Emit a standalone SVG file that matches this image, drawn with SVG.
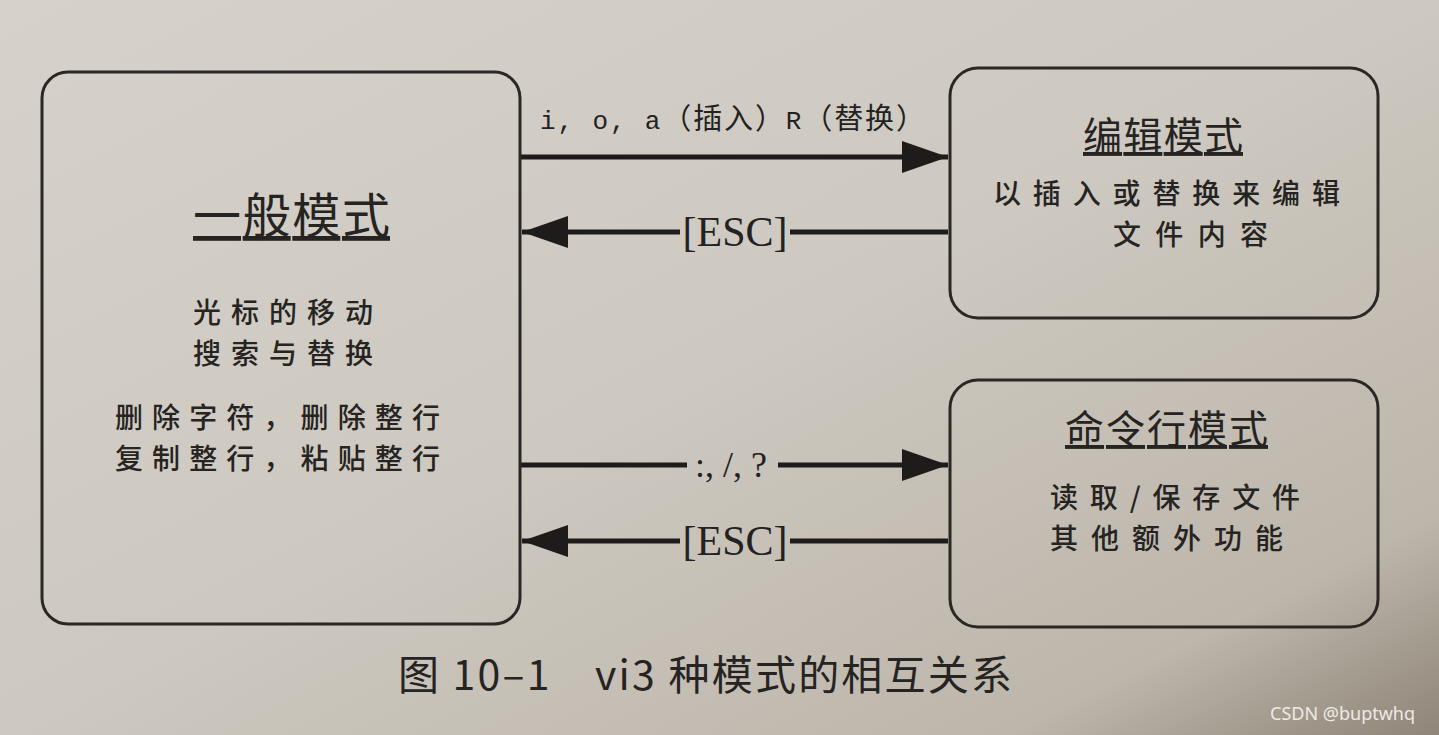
<svg xmlns="http://www.w3.org/2000/svg" width="1439" height="735" viewBox="0 0 1439 735">
<defs>
<linearGradient id="bg" x1="0" y1="0" x2="1" y2="1">
<stop offset="0" stop-color="#d6d2cb"/>
<stop offset="0.5" stop-color="#cdc8c0"/>
<stop offset="0.85" stop-color="#bdb6ab"/>
<stop offset="1" stop-color="#8f8578"/>
</linearGradient>
<marker id="ah" viewBox="0 0 46 32" refX="46" refY="16" markerWidth="46" markerHeight="32" markerUnits="userSpaceOnUse" orient="auto">
<path d="M0,0 L46,16 L0,32 Z" fill="#1e1c1a"/>
</marker>
<style>
.box{fill:none;stroke:#2a2725;stroke-width:3}
.conn{stroke:#1e1c1a;stroke-width:5;fill:none}
.arr{marker-end:url(#ah)}
.t{font-family:"Noto Sans CJK SC","Noto Sans",sans-serif;fill:#262422;font-weight:500}
.ttl{text-decoration:underline;font-weight:400}
.lbl{font-family:"Liberation Serif","Noto Sans CJK SC",serif;fill:#222;text-anchor:middle}
.mono{font-family:"Liberation Mono","Noto Sans CJK SC",monospace;fill:#222}
</style>
</defs>
<rect width="1439" height="735" fill="url(#bg)"/>
<g id="connectors">
<line class="conn arr" x1="520" y1="157" x2="948" y2="157"/>
<line class="conn" x1="948" y1="232" x2="790" y2="232"/>
<line class="conn arr" x1="680" y1="232" x2="522" y2="232"/>
<line class="conn" x1="520" y1="465" x2="687" y2="465"/>
<line class="conn arr" x1="778" y1="465" x2="948" y2="465"/>
<line class="conn" x1="948" y1="541" x2="790" y2="541"/>
<line class="conn arr" x1="680" y1="541" x2="522" y2="541"/>
<text class="mono" x="540" y="129" font-size="26" textLength="385" lengthAdjust="spacing">i, o, a<tspan font-family="Noto Sans CJK SC,sans-serif" font-size="29">（插入）</tspan>R<tspan font-family="Noto Sans CJK SC,sans-serif" font-size="29">（替换）</tspan></text>
<text class="lbl" x="735" y="246" font-size="42">[ESC]</text>
<text class="lbl" x="731" y="477" font-size="36">:, /, ?</text>
<text class="lbl" x="735" y="555" font-size="42">[ESC]</text>
</g>
<g id="node-normal">
<rect class="box" x="42" y="72" width="478" height="552" rx="26"/>
<text class="t ttl" x="193" y="233" font-size="48" textLength="197" lengthAdjust="spacing">一般模式</text>
<text class="t" x="193" y="323" font-size="28" textLength="180" lengthAdjust="spacing">光标的移动</text>
<text class="t" x="193" y="364" font-size="28" textLength="180" lengthAdjust="spacing">搜索与替换</text>
<text class="t" x="115" y="428" font-size="28" textLength="325" lengthAdjust="spacing">删除字符，删除整行</text>
<text class="t" x="115" y="469" font-size="28" textLength="325" lengthAdjust="spacing">复制整行，粘贴整行</text>
</g>
<g id="node-edit">
<rect class="box" x="950" y="68" width="428" height="250" rx="28"/>
<text class="t ttl" x="1083" y="150" font-size="39" textLength="160" lengthAdjust="spacing">编辑模式</text>
<text class="t" x="993" y="204" font-size="28" textLength="347" lengthAdjust="spacing">以插入或替换来编辑</text>
<text class="t" x="1113" y="245" font-size="28" textLength="155" lengthAdjust="spacing">文件内容</text>
</g>
<g id="node-cmd">
<rect class="box" x="950" y="380" width="428" height="247" rx="28"/>
<text class="t ttl" x="1065" y="443" font-size="39" textLength="203" lengthAdjust="spacing">命令行模式</text>
<text class="t" x="1050" y="508" font-size="28" textLength="250" lengthAdjust="spacing">读取/保存文件</text>
<text class="t" x="1050" y="549" font-size="28" textLength="233" lengthAdjust="spacing">其他额外功能</text>
</g>
<text class="t" x="398" y="690" font-size="41" font-weight="400" style="font-weight:400" textLength="614" lengthAdjust="spacing" fill="#2a2826">图 10–1　vi3 种模式的相互关系</text>
<text x="1270" y="720" font-family="'Noto Sans',sans-serif" font-size="18" fill="#eeeae4">CSDN @buptwhq</text>
</svg>
